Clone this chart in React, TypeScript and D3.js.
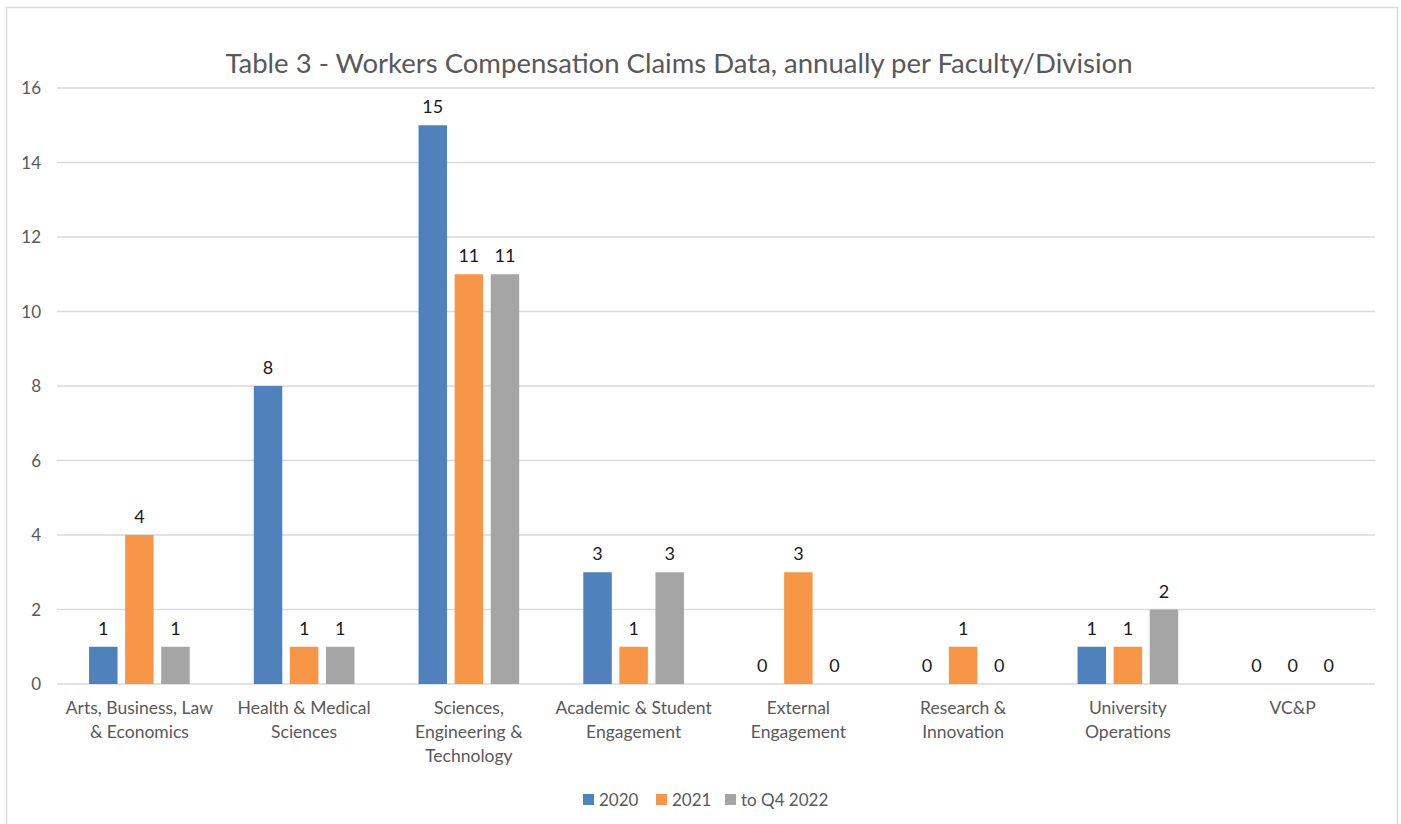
import React from "react";
import * as d3 from "d3";

const categories: string[][] = [
  ["Arts, Business, Law", "& Economics"],
  ["Health & Medical", "Sciences"],
  ["Sciences,", "Engineering &", "Technology"],
  ["Academic & Student", "Engagement"],
  ["External", "Engagement"],
  ["Research &", "Innovation"],
  ["University", "Operations"],
  ["VC&P"],
];
const seriesNames = ["2020", "2021", "to Q4 2022"];
const values2020 = [1, 8, 15, 3, 0, 0, 1, 0];
const values2021 = [4, 1, 11, 1, 3, 1, 1, 0];
const valuesQ42022 = [1, 1, 11, 3, 0, 0, 2, 0];
const colors = ["#4F81BD", "#F79646", "#A5A5A5"];
const yTicks = [0, 2, 4, 6, 8, 10, 12, 14, 16];

const W = 1401;
const H = 824;
const FONT = "Lato, 'Open Sans', sans-serif";

export default function App() {
  const series = [values2020, values2021, valuesQ42022];
  const plotLeft = 57;
  const plotRight = 1375;
  const y = d3.scaleLinear().domain([0, 16]).range([684, 88]);
  const x0 = d3
    .scaleBand<number>()
    .domain(d3.range(categories.length))
    .range([plotLeft, plotRight])
    .padding(0);
  const groupW = x0.step() * 0.611;
  const x1 = d3
    .scaleBand<number>()
    .domain(d3.range(3))
    .range([0, groupW])
    .paddingInner(0.21)
    .paddingOuter(0);

  const legendX = [583, 656, 725];

  return (
    <svg
      width={W}
      height={H}
      style={{ position: "absolute", left: 0, top: 0, background: "#fff" }}
      fontFamily={FONT}
    >
      <rect x={6.5} y={7.5} width={1391} height={830} fill="#fff" stroke="#D9D9D9" strokeWidth={1.5} />
      <text x={679} y={73} textAnchor="middle" fontSize={27.5} fill="#595959">
        Table 3 - Workers Compensation Claims Data, annually per Faculty/Division
      </text>
      {yTicks.map((t) => (
        <g key={t}>
          <line x1={plotLeft} x2={plotRight} y1={y(t)} y2={y(t)} stroke="#D9D9D9" strokeWidth={1.3} />
          <text x={41} y={y(t) + 6} textAnchor="end" fontSize={17} fill="#595959">
            {t}
          </text>
        </g>
      ))}
      {categories.map((cat, i) => {
        const gx = (x0(i) as number) + (x0.bandwidth() - groupW) / 2;
        return (
          <g key={i}>
            {series.map((vals, s) => {
              const bx = gx + (x1(s) as number);
              const v = vals[i];
              return (
                <g key={s}>
                  {v > 0 && (
                    <rect x={bx} y={y(v)} width={x1.bandwidth()} height={y(0) - y(v)} fill={colors[s]} />
                  )}
                  <text
                    x={bx + x1.bandwidth() / 2}
                    y={y(v) - 12}
                    textAnchor="middle"
                    fontSize={18}
                    fill="#1a1a1a"
                  >
                    {v}
                  </text>
                </g>
              );
            })}
            {cat.map((line, k) => (
              <text
                key={k}
                x={(x0(i) as number) + x0.bandwidth() / 2}
                y={714 + k * 24}
                textAnchor="middle"
                fontSize={17.5}
                fill="#595959"
              >
                {line}
              </text>
            ))}
          </g>
        );
      })}
      {seriesNames.map((n, s) => (
        <g key={n}>
          <rect x={legendX[s]} y={794} width={11} height={11} fill={colors[s]} />
          <text x={legendX[s] + 16} y={805.5} fontSize={17} fill="#595959">
            {n}
          </text>
        </g>
      ))}
    </svg>
  );
}
